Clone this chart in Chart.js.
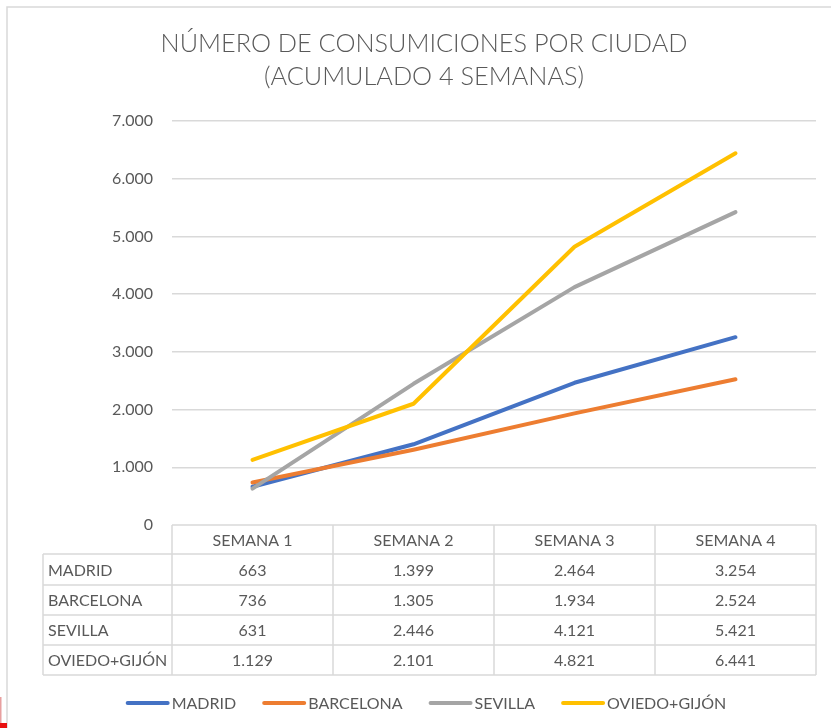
<!DOCTYPE html>
<html>
<head>
<meta charset="utf-8">
<script src="https://cdn.jsdelivr.net/npm/chart.js@4.4.0/dist/chart.umd.min.js"></script>
<style>
  html, body { margin: 0; padding: 0; background: #ffffff; }
  #wrap { position: relative; width: 831px; height: 728px; }
</style>
</head>
<body>
<div id="wrap"><canvas id="c" width="831" height="728"></canvas></div>
<script>
// ---- data ----
const titleLines = ['NÚMERO DE CONSUMICIONES POR CIUDAD', '(ACUMULADO 4 SEMANAS)'];
const categories = ['SEMANA 1', 'SEMANA 2', 'SEMANA 3', 'SEMANA 4'];
const seriesNames = ['MADRID', 'BARCELONA', 'SEVILLA', 'OVIEDO+GIJÓN'];
const madrid    = [663, 1399, 2464, 3254];
const barcelona = [736, 1305, 1934, 2524];
const sevilla   = [631, 2446, 4121, 5421];
const oviedo    = [1129, 2101, 4821, 6441];
const yTicks    = [0, 1000, 2000, 3000, 4000, 5000, 6000, 7000];

const seriesValues = [madrid, barcelona, sevilla, oviedo];
const seriesColors = ['#4472C4', '#ED7D31', '#A5A5A5', '#FFC000'];
const TEXT = '#595959';
const GRID = '#D9D9D9';
const FONT = 'Lato, "Open Sans", sans-serif';

function fmt(v) {
  return String(Math.round(v)).replace(/\B(?=(\d{3})+(?!\d))/g, '.');
}

const decorPlugin = {
  id: 'decor',
  beforeDraw(chart) {
    const ctx = chart.ctx;
    ctx.save();
    ctx.fillStyle = '#ffffff';
    ctx.fillRect(0, 0, chart.width, chart.height);
    // outer frame
    ctx.strokeStyle = GRID;
    ctx.lineWidth = 1.5;
    ctx.beginPath();
    ctx.moveTo(7, 728); ctx.lineTo(7, 7); ctx.lineTo(831, 7);
    ctx.stroke();
    // small red artefact bottom-left
    ctx.fillStyle = '#E8A0A0';
    ctx.fillRect(0, 697, 1.5, 31);
    ctx.fillStyle = '#E81010';
    ctx.fillRect(0, 723, 7, 5);
    ctx.restore();
  },
  afterDraw(chart) {
    const ctx = chart.ctx;
    const xs = chart.scales.x;
    const area = chart.chartArea;
    ctx.save();
    // title
    ctx.fillStyle = TEXT;
    ctx.textAlign = 'center';
    ctx.textBaseline = 'alphabetic';
    ctx.font = '300 25.3px ' + FONT;
    ctx.fillText(titleLines[0], 424, 52);
    ctx.fillText(titleLines[1], 424, 85);

    // data table
    const colW = (area.right - area.left) / categories.length;
    const rowTops = [area.bottom, 554, 585, 615, 645, 675];
    const tableLeft = 43;
    ctx.strokeStyle = GRID;
    ctx.lineWidth = 1.5;
    ctx.beginPath();
    ctx.moveTo(area.left, rowTops[0]); ctx.lineTo(area.right, rowTops[0]);
    for (let r = 1; r < rowTops.length; r++) {
      ctx.moveTo(tableLeft, rowTops[r]); ctx.lineTo(area.right, rowTops[r]);
    }
    ctx.moveTo(tableLeft, rowTops[1]); ctx.lineTo(tableLeft, rowTops[5]);
    for (let i = 0; i <= categories.length; i++) {
      const x = area.left + i * colW;
      ctx.moveTo(x, rowTops[0]); ctx.lineTo(x, rowTops[5]);
    }
    ctx.stroke();

    ctx.fillStyle = TEXT;
    ctx.font = '16px ' + FONT;
    ctx.textBaseline = 'middle';
    ctx.textAlign = 'center';
    categories.forEach((c, i) => {
      ctx.fillText(c, xs.getPixelForValue(i), (rowTops[0] + rowTops[1]) / 2 + 1);
    });
    seriesNames.forEach((name, r) => {
      const yMid = (rowTops[r + 1] + rowTops[r + 2]) / 2 + 1;
      ctx.textAlign = 'left';
      ctx.fillText(name, 48, yMid);
      ctx.textAlign = 'center';
      seriesValues[r].forEach((v, i) => {
        ctx.fillText(fmt(v), xs.getPixelForValue(i), yMid);
      });
    });

    // legend
    const lineW = 44, gapText = 2, gapItem = 26, ly = 703;
    const widths = seriesNames.map(n => lineW + gapText + ctx.measureText(n).width);
    const total = widths.reduce((a, b) => a + b, 0) + gapItem * (widths.length - 1);
    let x = 426 - total / 2;
    seriesNames.forEach((n, i) => {
      ctx.strokeStyle = seriesColors[i];
      ctx.lineWidth = 4;
      ctx.lineCap = 'round';
      ctx.beginPath();
      ctx.moveTo(x + 2, ly); ctx.lineTo(x + lineW - 2, ly);
      ctx.stroke();
      ctx.fillStyle = TEXT;
      ctx.textAlign = 'left';
      ctx.fillText(n, x + lineW + gapText, ly + 1);
      x += widths[i] + gapItem;
    });
    ctx.restore();
  }
};

function build() {
  new Chart(document.getElementById('c'), {
    type: 'line',
    data: {
      labels: categories,
      datasets: seriesNames.map((n, i) => ({
        label: n,
        data: seriesValues[i],
        borderColor: seriesColors[i],
        backgroundColor: seriesColors[i],
        borderWidth: 4,
        borderCapStyle: 'round',
        borderJoinStyle: 'round',
        pointRadius: 0,
        tension: 0,
        fill: false,
        order: seriesNames.length - i
      }))
    },
    options: {
      responsive: false,
      animation: false,
      devicePixelRatio: 1,
      layout: { padding: { left: 100, right: 15, top: 121, bottom: 203 } },
      plugins: { legend: { display: false }, title: { display: false }, tooltip: { enabled: false } },
      scales: {
        x: {
          display: false,
          offset: true,
          grid: { display: false }
        },
        y: {
          min: 0,
          max: 7000,
          afterFit(s) { s.width = 72; },
          afterBuildTicks(s) { s.ticks = yTicks.map(v => ({ value: v })); },
          border: { display: false },
          grid: {
            color: (c) => c.tick && c.tick.value === 0 ? 'rgba(0,0,0,0)' : GRID,
            lineWidth: 1.5,
            drawTicks: false
          },
          ticks: {
            color: TEXT,
            font: { family: FONT, size: 16 },
            padding: 19,
            callback: (v) => fmt(v)
          }
        }
      }
    },
    plugins: [decorPlugin]
  });
}

Promise.all([
  document.fonts.load('300 25.3px Lato'),
  document.fonts.load('16px Lato')
]).then(build, build);
</script>
</body>
</html>
